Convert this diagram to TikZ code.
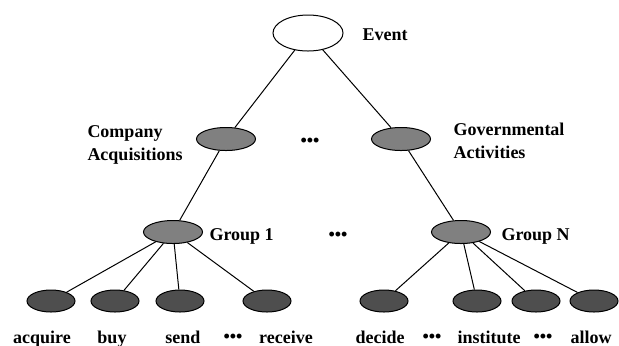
\documentclass[tikz,border=0pt]{standalone}
\usepackage{fontspec}
\setmainfont{Liberation Serif}
\usetikzlibrary{shapes.geometric}

\definecolor{midgray}{RGB}{128,128,128}
\definecolor{leafgray}{RGB}{78,78,78}

\tikzset{
  eventnode/.style = {ellipse, draw, fill=white, inner sep=0pt, minimum width=35pt, minimum height=18pt},
  midnode/.style = {ellipse, draw, fill=midgray, inner sep=0pt, minimum width=29.5pt, minimum height=11.5pt},
  leafnode/.style = {ellipse, draw, fill=leafgray, inner sep=0pt, minimum width=24pt, minimum height=11pt},
  lbl/.style = {inner sep=0pt}
}

\begin{document}
\begin{tikzpicture}[x=0.5pt, y=-0.5pt, line width=0.5pt, font=\fontsize{9}{11.5}\selectfont\bfseries]
%coordinates are pixels of the page, y downwards
\useasboundingbox (0,0) rectangle (619,345);

\node[eventnode] (event) at (308,33) {};
\node[midnode] (comp) at (226,139) {};
\node[midnode] (gov) at (401,139) {};
\node[midnode] (grp1) at (173,232) {};
\node[midnode] (grpN) at (461,232) {};

%leaves: number / x
\foreach \n/\x in {1/51,2/115,3/180,4/267,5/384,6/477,7/536,8/594}
	\node[leafnode] (l\n) at (\x,301) {};

\foreach \m/\n in {event/comp,event/gov,comp/grp1,gov/grpN,grp1/l1,grp1/l2,grp1/l3,grp1/l4,grpN/l5,grpN/l6,grpN/l7,grpN/l8}
	\draw (\m) -- (\n);

\node[lbl, anchor=base west] (eventlbl) at (362,40) {Event};
\node[lbl, anchor=west, align=left] (complbl) at (87,144.5) {Company\\Acquisitions};
\node[lbl, anchor=west, align=left] (govlbl) at (453,141) {Governmental\\Activities};
\node[lbl, anchor=base west] (grp1lbl) at (209,240) {Group 1};
\node[lbl, anchor=base west] (grpNlbl) at (501,240) {Group N};

%words under the leaves
\foreach \n/\x/\w in {1/42/acquire,2/112/buy,3/183/send,4/286/receive,5/380/decide,6/489/institute,8/591/allow}
	\node[lbl, anchor=base] (w\n) at (\x,343) {\w};

%dots
\foreach \n/\x/\y in {1/310/142,2/338/236,3/233/338,4/432/338,5/543/338}
	\node[lbl] (dots\n) at (\x,\y) {\textbullet\textbullet\textbullet};

\end{tikzpicture}
\end{document}
